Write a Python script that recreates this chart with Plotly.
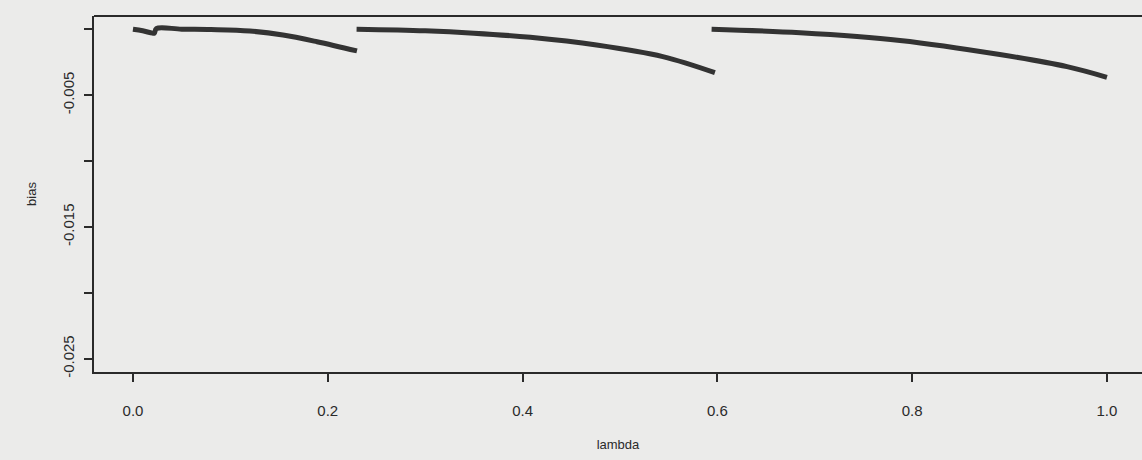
import plotly.graph_objects as go

# Segment data (lambda, bias)
seg1_lambda = [0.0, 0.01, 0.02, 0.022, 0.024, 0.05, 0.08, 0.12, 0.154, 0.189, 0.23]
seg1_bias = [0.0, -0.00012, -0.0003, -0.0003, 0.00005, 0.0, -0.00003, -0.00014, -0.00044, -0.00095, -0.00165]

seg2_lambda = [0.2296, 0.30, 0.35, 0.408, 0.476, 0.544, 0.5975]
seg2_bias = [0.0, -0.00012, -0.0003, -0.00062, -0.0012, -0.00208, -0.0033]

seg3_lambda = [0.5941, 0.685, 0.7875, 0.89, 0.959, 1.0]
seg3_bias = [0.0, -0.00027, -0.00085, -0.00192, -0.00284, -0.00365]

x_tickvals = [0.0, 0.2, 0.4, 0.6, 0.8, 1.0]
x_ticktext = ["0.0", "0.2", "0.4", "0.6", "0.8", "1.0"]
y_tickvals = [0.0, -0.005, -0.010, -0.015, -0.020, -0.025]
y_ticktext = ["", "-0.005", "", "-0.015", "", "-0.025"]

ink = "#2a2a2a"
bg = "#ebebea"

fig = go.Figure()
for xs, ys in [(seg1_lambda, seg1_bias), (seg2_lambda, seg2_bias), (seg3_lambda, seg3_bias)]:
    fig.add_trace(go.Scatter(x=xs, y=ys, mode="lines",
                             line=dict(color="#333333", width=5, shape="spline", smoothing=1.0),
                             showlegend=False, hoverinfo="skip"))

fig.update_layout(
    width=1142, height=460,
    margin=dict(l=94, r=0, t=16, b=88),
    paper_bgcolor=bg, plot_bgcolor=bg,
    font=dict(family="Liberation Sans, Arial, sans-serif", size=15, color=ink),
    showlegend=False,
    shapes=[dict(type="line", xref="paper", yref="paper", x0=0, x1=1, y0=1, y1=1,
                 line=dict(color=ink, width=2))],
)
fig.update_xaxes(
    range=[-0.04, 1.036], tickvals=x_tickvals, ticktext=x_ticktext,
    showgrid=False, zeroline=False, showline=True, linecolor=ink, linewidth=2,
    ticks="outside", ticklen=8, tickwidth=2, tickcolor=ink, ticklabelstandoff=16,
    tickfont=dict(size=15, color=ink),
    title=dict(text="lambda", font=dict(size=13, color=ink), standoff=22),
)
fig.update_yaxes(
    range=[-0.026, 0.001], tickvals=y_tickvals, ticktext=y_ticktext,
    showgrid=False, zeroline=False, showline=True, linecolor=ink, linewidth=2,
    ticks="outside", ticklen=8, tickwidth=2, tickcolor=ink, tickangle=-90, ticklabelstandoff=4,
    tickfont=dict(size=15, color=ink),
    title=dict(text="bias", font=dict(size=13, color=ink), standoff=20),
)
fig.write_html("out.html")
